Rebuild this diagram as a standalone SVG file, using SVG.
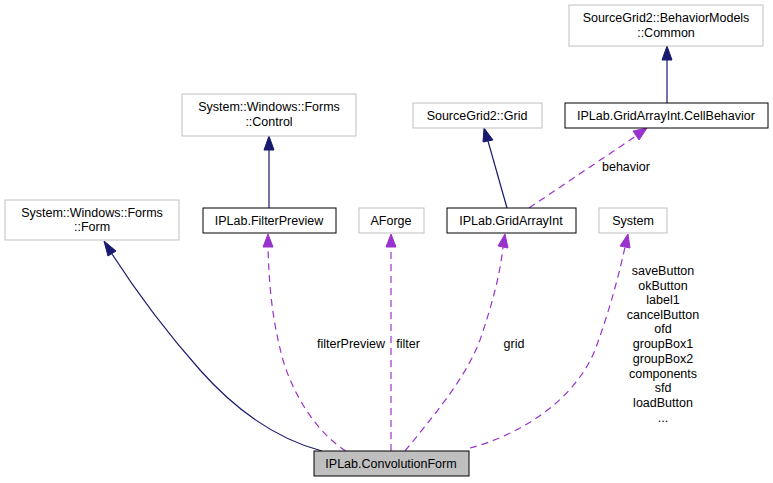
<svg xmlns="http://www.w3.org/2000/svg" width="773" height="483" viewBox="0 0 773 483">
<defs>
<style>
text{font-family:"Liberation Sans",Arial,sans-serif;font-size:12.5px;fill:#000;text-anchor:middle}
.ext{fill:#fff;stroke:#bfbfbf;stroke-width:1}
.doc{fill:#fff;stroke:#000;stroke-width:1}
.cur{fill:#bfbfbf;stroke:#000;stroke-width:1}
.inh{fill:none;stroke:#191970;stroke-width:1.2}
.use{fill:none;stroke:#9a32cd;stroke-width:1.2;stroke-dasharray:7,5}
.ah1{fill:#191970;stroke:#191970}
.ah2{fill:#9a32cd;stroke:#9a32cd}
</style>
</defs>
<rect width="773" height="483" fill="#fff"/>
<g id="connectors">
<path class="inh" d="M322,451 C280,440 240,415 200,370 C160,325 132,285 112,254"/>
<polygon class="ah1" points="104,241 116,251 108,256"/>
<path class="use" d="M346,451 C320,435 295,400 283,360 C272,320 269,285 268,247"/>
<polygon class="ah2" points="268,234 263,247 273,247"/>
<path class="use" d="M391,451 L391,247"/>
<polygon class="ah2" points="391,234 386,247 396,247"/>
<path class="use" d="M405,451 C430,420 465,380 480,340 C492,305 500,275 503,247"/>
<polygon class="ah2" points="505,234 498,246 508,248"/>
<path class="use" d="M470,448 C520,435 575,400 595,350 C610,310 620,270 625,247"/>
<polygon class="ah2" points="628,234 620,246 630,248"/>
<path class="inh" d="M507,208 L488,141"/>
<polygon class="ah1" points="484,128 483,142 493,140"/>
<path class="use" d="M529,208 L636,136"/>
<polygon class="ah2" points="647,128 633,131 639,140"/>
<path class="inh" d="M667,103 L667,60"/>
<polygon class="ah1" points="667,46 662,60 672,60"/>
<path class="inh" d="M269,208 L269,150"/>
<polygon class="ah1" points="269,136 264,150 274,150"/>
<text x="351" y="348">filterPreview</text>
<text x="408" y="348">filter</text>
<text x="514" y="348">grid</text>
<text x="626" y="171">behavior</text>
<text x="663" y="275">saveButton</text>
<text x="663" y="290">okButton</text>
<text x="663" y="304">label1</text>
<text x="663" y="319">cancelButton</text>
<text x="663" y="333">ofd</text>
<text x="663" y="348">groupBox1</text>
<text x="663" y="363">groupBox2</text>
<text x="663" y="378">components</text>
<text x="663" y="392">sfd</text>
<text x="663" y="407">loadButton</text>
<text x="663" y="422">...</text>
</g>
<g id="node_form">
<rect class="ext" x="5" y="200" width="174" height="40"/>
<text x="92" y="217">System::Windows::Forms</text>
<text x="92" y="231">::Form</text>
</g>
<g id="node_control">
<rect class="ext" x="182" y="94" width="174" height="42"/>
<text x="269" y="111">System::Windows::Forms</text>
<text x="269" y="126">::Control</text>
</g>
<g id="node_filterpreview">
<rect class="doc" x="203" y="208" width="133" height="25"/>
<text x="269" y="225">IPLab.FilterPreview</text>
</g>
<g id="node_aforge">
<rect class="ext" x="359" y="208" width="65" height="25"/>
<text x="391" y="225">AForge</text>
</g>
<g id="node_gridarrayint">
<rect class="doc" x="447" y="208" width="129" height="25"/>
<text x="511" y="225">IPLab.GridArrayInt</text>
</g>
<g id="node_system">
<rect class="ext" x="599" y="208" width="68" height="25"/>
<text x="633" y="225">System</text>
</g>
<g id="node_grid">
<rect class="ext" x="413" y="103" width="129" height="25"/>
<text x="477" y="120">SourceGrid2::Grid</text>
</g>
<g id="node_cellbehavior">
<rect class="doc" x="565" y="103" width="203" height="25"/>
<text x="666" y="120">IPLab.GridArrayInt.CellBehavior</text>
</g>
<g id="node_common">
<rect class="ext" x="569" y="5" width="194" height="41"/>
<text x="666" y="22">SourceGrid2::BehaviorModels</text>
<text x="666" y="37">::Common</text>
</g>
<g id="node_convolutionform">
<rect class="cur" x="314" y="451" width="155" height="25"/>
<text x="391" y="468">IPLab.ConvolutionForm</text>
</g>
</svg>
